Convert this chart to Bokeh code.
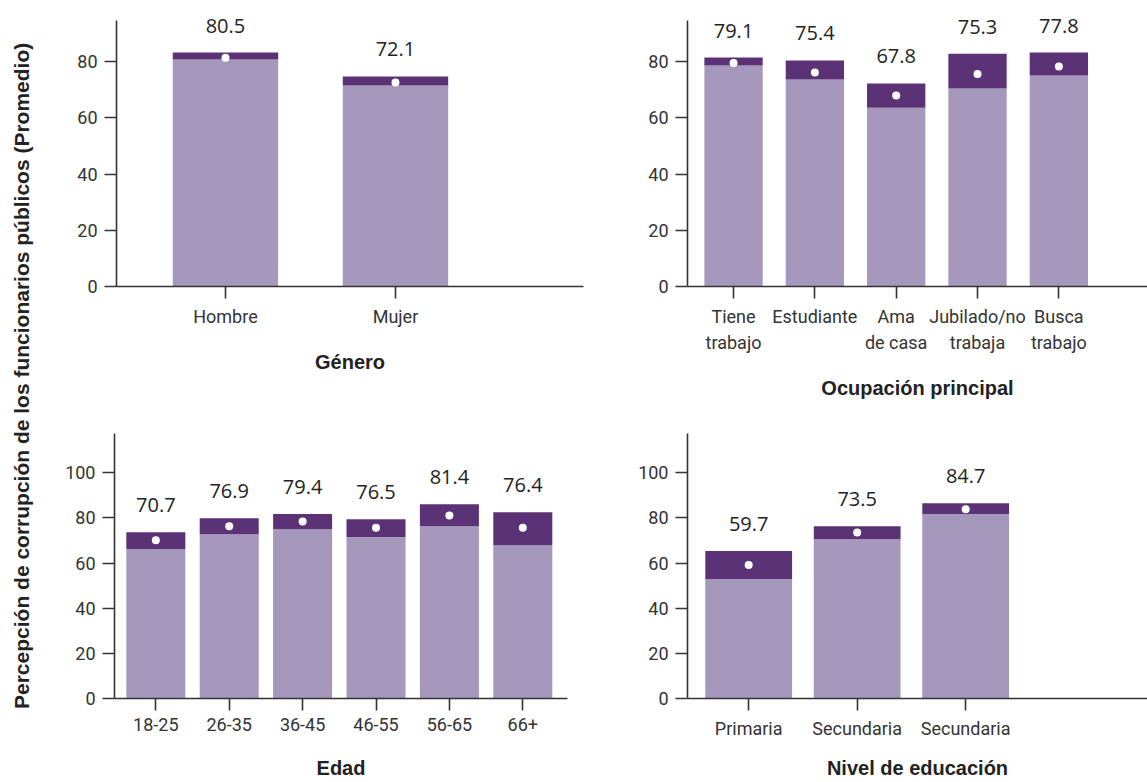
import math
from bokeh.plotting import figure
from bokeh.layouts import row, column
from bokeh.models import ColumnDataSource, Range1d, FixedTicker, LabelSet
from bokeh.core.properties import value
from bokeh.embed import file_html
from bokeh.resources import INLINE

# ---------------- data ----------------
generos = ["Hombre", "Mujer"]
genero_inf = [80.7, 71.5]
genero_sup = [83.2, 74.7]
genero_punto = [81.3, 72.5]
genero_media = [80.5, 72.1]

ocupaciones = ["Tiene\ntrabajo", "Estudiante", "Ama\nde casa", "Jubilado/no\ntrabaja", "Busca\ntrabajo"]
ocup_inf = [78.6, 73.6, 63.6, 70.4, 75.0]
ocup_sup = [81.4, 80.4, 72.2, 82.8, 83.2]
ocup_punto = [79.5, 76.1, 67.9, 75.6, 78.2]
ocup_media = [79.1, 75.4, 67.8, 75.3, 77.8]

edades = ["18-25", "26-35", "36-45", "46-55", "56-65", "66+"]
edad_inf = [66.2, 72.8, 75.0, 71.5, 76.3, 67.9]
edad_sup = [73.7, 79.9, 81.7, 79.4, 86.1, 82.5]
edad_punto = [70.1, 76.3, 78.4, 75.6, 81.1, 75.6]
edad_media = [70.7, 76.9, 79.4, 76.5, 81.4, 76.4]

educacion = ["Primaria", "Secundaria", "Secundaria"]
edu_inf = [52.9, 70.6, 81.7]
edu_sup = [65.3, 76.3, 86.5]
edu_punto = [59.1, 73.5, 83.9]
edu_media = [59.7, 73.5, 84.7]

ticks_sup = [0, 20, 40, 60, 80]
ticks_inf = [0, 20, 40, 60, 80, 100]

# ---------------- style ----------------
LIGHT = "#A697BC"
DARK = "#5B3276"
AXIS = "#333333"
TICK_FONT = "Roboto, sans-serif"
TITLE_FONT = "'Liberation Sans', Arial, sans-serif"
VAL_FONT = "'Open Sans', sans-serif"


def panel(cats, inf, sup, punto, media, title, width, height, borders,
          x_rng, y_end, y_axis_top, yticks, bar_w, label_standoff):
    n = len(cats)
    xs = list(range(1, n + 1))
    src = ColumnDataSource(dict(x=xs, inf=inf, sup=sup, punto=punto,
                                lbl=[f"{m:.1f}" for m in media]))
    p = figure(width=width, height=height, output_backend="svg", toolbar_location=None,
               x_range=Range1d(*x_rng), y_range=Range1d(0, y_end))
    p.min_border_left, p.min_border_right, p.min_border_top, p.min_border_bottom = borders
    p.outline_line_color = None
    p.background_fill_color = None
    p.border_fill_color = None
    p.xgrid.visible = False
    p.ygrid.visible = False

    p.vbar(x="x", bottom=0, top="inf", width=bar_w, source=src,
           fill_color=LIGHT, line_color=None)
    p.vbar(x="x", bottom="inf", top="sup", width=bar_w, source=src,
           fill_color=DARK, line_color=None)
    p.scatter(x="x", y="punto", size=8, source=src, fill_color="white", line_color=None)
    p.add_layout(LabelSet(x="x", y="sup", text="lbl", source=src, y_offset=20,
                          text_align="center", text_baseline="alphabetic",
                          text_font=value(VAL_FONT), text_font_size="20px",
                          text_color="#222222"))

    for ax in (p.xaxis[0], p.yaxis[0]):
        ax.axis_line_color = AXIS
        ax.axis_line_width = 1.6
        ax.major_tick_line_color = AXIS
        ax.major_tick_line_width = 1.6
        ax.major_tick_out = 12
        ax.major_tick_in = 0
        ax.minor_tick_line_color = None
        ax.major_label_text_font = TICK_FONT
        ax.major_label_text_font_size = "18px"
        ax.major_label_text_color = "#333333"

    p.yaxis.ticker = FixedTicker(ticks=yticks)
    p.yaxis.bounds = (0, y_axis_top)
    p.yaxis.major_label_standoff = 7
    p.xaxis.ticker = FixedTicker(ticks=xs)
    p.xaxis.major_label_overrides = {x: c for x, c in zip(xs, cats)}
    p.xaxis.major_label_standoff = 7
    p.xaxis.major_label_text_line_height = 1.25
    p.xaxis.axis_label = title
    p.xaxis.axis_label_text_font = TITLE_FONT
    p.xaxis.axis_label_text_font_style = "bold"
    p.xaxis.axis_label_text_font_size = "20px"
    p.xaxis.axis_label_text_color = "#222222"
    p.xaxis.axis_label_standoff = label_standoff
    return p


p1 = panel(generos, genero_inf, genero_sup, genero_punto, genero_media, "Género",
           552, 410, (68, 17, 0, 124), (0.359, 3.106), 101.69, 94.58, ticks_sup, 0.62, 21)
p2 = panel(ocupaciones, ocup_inf, ocup_sup, ocup_punto, ocup_media, "Ocupación principal",
           547, 410, (87, 0, 0, 124), (0.434, 6.09), 101.69, 94.58, ticks_sup, 0.717, 21)
p3 = panel(edades, edad_inf, edad_sup, edad_punto, edad_media, "Edad",
           552, 372, (66, 33, 0, 84), (0.437, 6.609), 127.6, 117.4, ticks_inf, 0.804, 23)
p4 = panel(educacion, edu_inf, edu_sup, edu_punto, edu_media, "Nivel de educación",
           547, 372, (87, 0, 0, 84), (0.436, 4.676), 127.6, 117.4, ticks_inf, 0.80, 15)

# common y label
py = figure(width=48, height=782, output_backend="svg", toolbar_location=None,
            x_range=Range1d(0, 1), y_range=Range1d(0, 1))
py.min_border = 0
py.outline_line_color = None
py.axis.visible = False
py.grid.visible = False
py.text(x=[0.44], y=[0.52], text=["Percepción de corrupción de los funcionarios públicos (Promedio)"],
        angle=math.pi / 2, text_align="center", text_baseline="middle",
        text_font=value(TITLE_FONT), text_font_style="bold", text_font_size="21px",
        text_color="#222222")

layout = row(py, column(row(p1, p2), row(p3, p4)))

open("out.html", "w").write(file_html(layout, INLINE))
